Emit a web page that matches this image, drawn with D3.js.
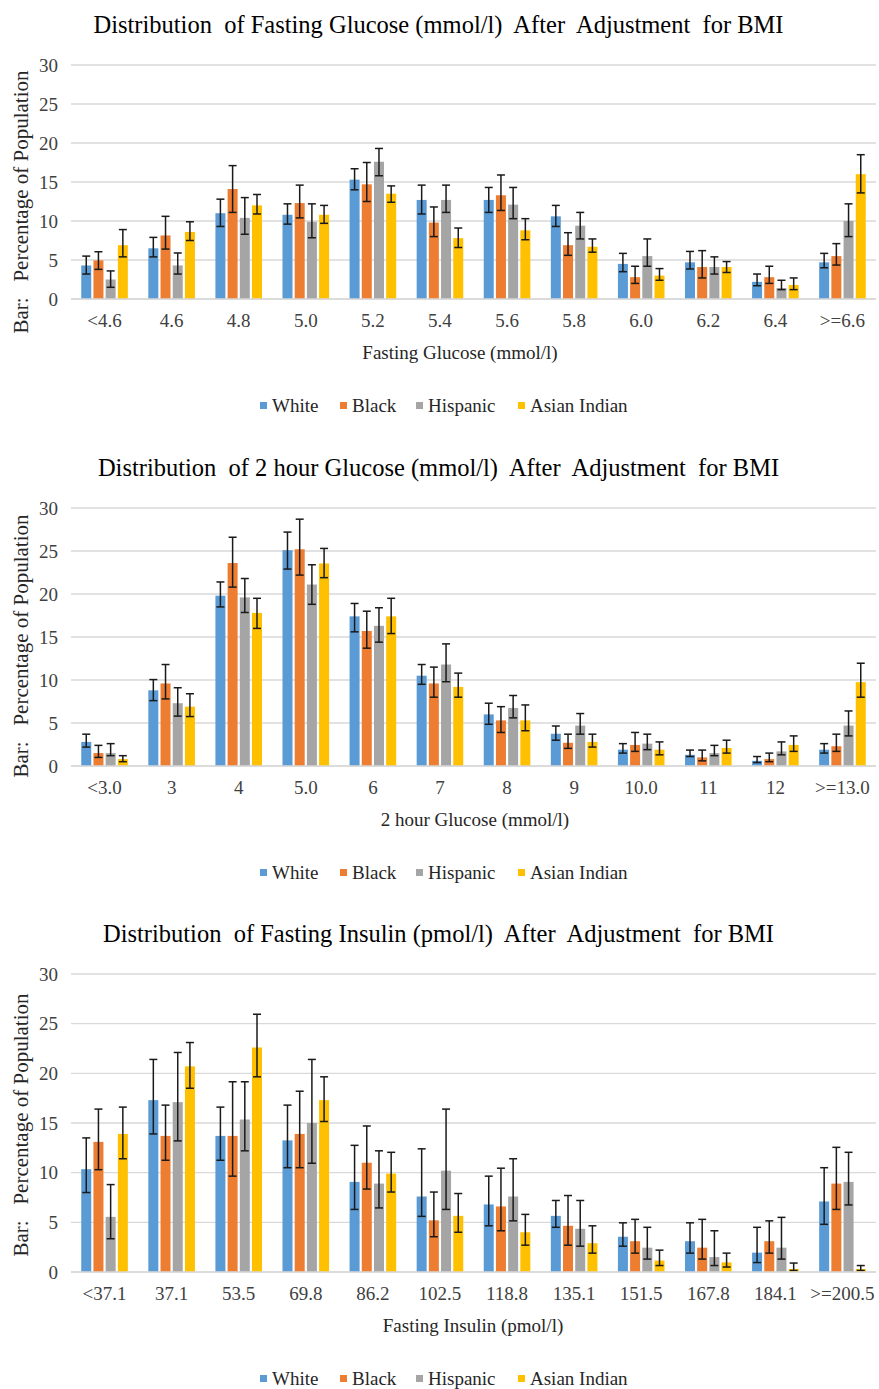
<!DOCTYPE html>
<html>
<head>
<meta charset="utf-8">
<script src="https://cdn.jsdelivr.net/npm/d3@7"></script>
<style>
  body { margin: 0; background: #fff; }
  text { font-family: "Liberation Serif", "Times New Roman", serif; white-space: pre; }
</style>
</head>
<body>
<div id="chart"></div>
<script>
// values are [bar, lower CI, upper CI]
const seriesNames = ["White", "Black", "Hispanic", "Asian Indian"];
const seriesColors = ["#5B9BD5", "#ED7D31", "#A5A5A5", "#FFC000"];
const yTicks = [0, 5, 10, 15, 20, 25, 30];

// Panel 1: fasting glucose
const fgCategories = ["<4.6", "4.6", "4.8", "5.0", "5.2", "5.4", "5.6", "5.8", "6.0", "6.2", "6.4", ">=6.6"];
const fgWhite = [[4.3,3.2,5.5],[6.5,5.4,7.9],[11.0,9.3,12.8],[10.8,9.6,12.2],[15.3,14.0,16.7],[12.7,10.9,14.6],[12.7,11.1,14.3],[10.6,9.3,12.0],[4.5,3.5,5.85],[4.7,3.85,6.1],[2.2,1.7,3.2],[4.7,4.0,5.85]];
const fgBlack = [[4.95,3.8,6.06],[8.15,6.4,10.6],[14.1,11.1,17.1],[12.3,10.4,14.6],[14.7,12.5,17.5],[9.8,8.0,11.8],[13.3,11.35,15.9],[6.9,5.6,8.5],[2.8,2.0,4.2],[4.1,2.7,6.2],[2.8,2.0,4.2],[5.5,4.35,7.1]];
const fgHispanic = [[2.5,1.5,3.6],[4.3,3.2,5.9],[10.4,8.3,13.0],[9.9,7.85,12.2],[17.6,15.8,19.3],[12.7,11.1,14.6],[12.1,10.3,14.3],[9.4,7.7,11.1],[5.5,4.2,7.7],[4.1,3.2,5.4],[1.4,1.2,2.4],[10.0,8.0,12.2]];
const fgAsianIndian = [[6.9,5.4,8.9],[8.6,7.5,9.9],[12.0,10.9,13.4],[10.8,9.7,12.0],[13.5,12.4,14.5],[7.8,6.6,9.1],[8.8,7.6,10.3],[6.7,6.0,7.7],[3.0,2.4,3.9],[4.1,3.4,4.8],[1.8,1.2,2.7],[16.0,13.6,18.5]];

// Panel 2: 2 hour glucose
const tgCategories = ["<3.0", "3", "4", "5.0", "6", "7", "8", "9", "10.0", "11", "12", ">=13.0"];
const tgWhite = [[2.8,2.2,3.7],[8.8,7.6,10.05],[19.8,18.5,21.4],[25.1,22.9,27.2],[17.4,15.6,18.9],[10.5,9.5,11.8],[6.0,4.85,7.3],[3.75,3.0,4.65],[1.9,1.5,2.6],[1.3,1.1,1.85],[0.6,0.4,1.1],[1.9,1.5,2.6]];
const tgBlack = [[1.5,1.0,2.4],[9.6,7.8,11.8],[23.6,20.8,26.6],[25.2,22.2,28.7],[15.7,13.7,18.0],[9.6,8.0,11.5],[5.3,3.9,6.9],[2.7,2.05,3.7],[2.45,1.7,3.9],[1.0,0.6,1.85],[0.8,0.5,1.5],[2.3,1.7,3.7]];
const tgHispanic = [[1.5,1.2,2.6],[7.3,5.8,9.1],[19.6,17.85,21.8],[21.1,18.8,23.4],[16.3,14.4,18.4],[11.8,9.8,14.2],[6.75,5.6,8.2],[4.7,3.7,6.1],[2.6,1.9,3.7],[1.5,1.2,2.4],[1.7,1.3,2.8],[4.7,3.5,6.4]];
const tgAsianIndian = [[0.8,0.5,1.2],[6.9,5.75,8.4],[17.8,16.0,19.5],[23.55,21.9,25.3],[17.4,15.4,19.5],[9.2,8.0,10.8],[5.3,4.1,7.1],[2.8,2.2,3.7],[1.9,1.3,2.8],[2.1,1.5,3.0],[2.45,1.7,3.5],[9.75,8.0,11.95]];

// Panel 3: fasting insulin
const fiCategories = ["<37.1", "37.1", "53.5", "69.8", "86.2", "102.5", "118.8", "135.1", "151.5", "167.8", "184.1", ">=200.5"];
const fiWhite = [[10.35,8.0,13.5],[17.3,13.9,21.4],[13.7,11.25,16.6],[13.25,10.5,16.8],[9.07,6.3,12.75],[7.6,5.6,12.4],[6.8,4.65,9.65],[5.65,4.5,7.2],[3.55,2.6,4.95],[3.1,1.9,4.95],[1.95,0.95,4.5],[7.1,4.8,10.5]];
const fiBlack = [[13.1,10.3,16.4],[13.7,11.25,16.8],[13.7,9.65,19.15],[13.9,10.5,18.2],[11.0,8.35,14.7],[5.2,3.55,8.05],[6.6,4.15,10.45],[4.65,2.7,7.7],[3.1,1.9,5.3],[2.45,1.3,5.3],[3.1,1.9,5.15],[8.9,6.3,12.55]];
const fiHispanic = [[5.55,3.35,8.8],[17.1,13.2,22.1],[15.35,12.2,19.15],[15.0,10.95,21.4],[8.9,6.45,12.2],[10.2,6.3,16.4],[7.6,5.15,11.4],[4.35,2.6,7.2],[2.45,1.3,4.5],[1.5,0.65,4.15],[2.45,1.3,5.5],[9.07,6.75,12.05]];
const fiAsianIndian = [[13.9,11.4,16.6],[20.7,18.5,23.1],[22.6,19.65,25.95],[17.3,15.15,19.65],[9.9,8.05,12.05],[5.65,4.0,7.9],[4.0,2.7,5.8],[2.9,1.9,4.65],[1.15,0.65,2.2],[0.97,0.5,1.9],[0.3,0.15,0.9],[0.3,0.15,0.65]];

const width = 879, height = 1389;
const plotLeft = 71, plotRight = 876;

const panels = [
  { title: "Distribution  of Fasting Glucose (mmol/l)  After  Adjustment  for BMI",
    xTitle: "Fasting Glucose (mmol/l)", cats: fgCategories, xTitleX: 460, yLabelY: 202,
    series: [fgWhite, fgBlack, fgHispanic, fgAsianIndian], top: 65, bottom: 299 },
  { title: "Distribution  of 2 hour Glucose (mmol/l)  After  Adjustment  for BMI",
    xTitle: "2 hour Glucose (mmol/l)", cats: tgCategories, xTitleX: 475, yLabelY: 646,
    series: [tgWhite, tgBlack, tgHispanic, tgAsianIndian], top: 508, bottom: 766 },
  { title: "Distribution  of Fasting Insulin (pmol/l)  After  Adjustment  for BMI",
    xTitle: "Fasting Insulin (pmol/l)", cats: fiCategories, xTitleX: 473, yLabelY: 1125,
    series: [fiWhite, fiBlack, fiHispanic, fiAsianIndian], top: 974, bottom: 1272 }
];

const svg = d3.select("#chart").append("svg")
  .attr("width", width)
  .attr("height", height);

panels.forEach(p => drawPanel(p));

function drawPanel(p) {
  const g = svg.append("g");

  const x0 = d3.scaleBand().domain(p.cats).range([plotLeft, plotRight]).paddingInner(0).paddingOuter(0);
  const groupW = 46.6;
  const x1 = d3.scaleBand().domain(seriesNames)
    .range([(x0.bandwidth() - groupW) / 2, (x0.bandwidth() + groupW) / 2])
    .paddingInner(0.18).paddingOuter(0);
  const y = d3.scaleLinear().domain([0, 30]).range([p.bottom, p.top]);

  // title
  g.append("text")
    .attr("x", width / 2 - 1)
    .attr("y", p.top - 32)
    .attr("text-anchor", "middle")
    .attr("fill", "#000")
    .style("font-size", "24.5px")
    .text(p.title);

  // gridlines
  g.append("g")
    .selectAll("line")
    .data(yTicks)
    .join("line")
    .attr("x1", plotLeft).attr("x2", plotRight)
    .attr("y1", d => y(d)).attr("y2", d => y(d))
    .attr("stroke", "#d9d9d9")
    .attr("stroke-width", 1.3);

  // y axis labels
  const yAxis = g.append("g")
    .attr("transform", `translate(${plotLeft},0)`)
    .call(d3.axisLeft(y).tickValues(yTicks).tickSize(0).tickPadding(13));
  yAxis.select(".domain").remove();
  yAxis.selectAll("text")
    .attr("fill", "#404040")
    .style("font-family", "Liberation Serif, serif")
    .style("font-size", "19px");

  // y axis title
  g.append("text")
    .attr("transform", `translate(28,${p.yLabelY}) rotate(-90)`)
    .attr("text-anchor", "middle")
    .attr("fill", "#262626")
    .style("font-size", "21px")
    .text("Bar:   Percentage of Population");

  // bars
  p.series.forEach((vals, si) => {
    const sg = g.append("g");
    sg.selectAll("rect")
      .data(vals)
      .join("rect")
      .attr("x", (d, i) => x0(p.cats[i]) + x1(seriesNames[si]))
      .attr("y", d => y(d[0]))
      .attr("width", x1.bandwidth())
      .attr("height", d => y(0) - y(d[0]))
      .attr("fill", seriesColors[si]);
  });

  // error bars
  p.series.forEach((vals, si) => {
    const eg = g.append("g").attr("stroke", "#1a1a1a").attr("stroke-width", 1.5);
    vals.forEach((d, i) => {
      const cx = x0(p.cats[i]) + x1(seriesNames[si]) + x1.bandwidth() / 2;
      eg.append("line").attr("x1", cx).attr("x2", cx).attr("y1", y(d[1])).attr("y2", y(d[2]));
      eg.append("line").attr("x1", cx - 4).attr("x2", cx + 4).attr("y1", y(d[1])).attr("y2", y(d[1]));
      eg.append("line").attr("x1", cx - 4).attr("x2", cx + 4).attr("y1", y(d[2])).attr("y2", y(d[2]));
    });
  });

  // baseline
  g.append("line")
    .attr("x1", plotLeft).attr("x2", plotRight)
    .attr("y1", y(0)).attr("y2", y(0))
    .attr("stroke", "#d9d9d9")
    .attr("stroke-width", 1.3);

  // x axis labels
  const xAxis = g.append("g")
    .attr("transform", `translate(0,${p.bottom})`)
    .call(d3.axisBottom(x0).tickSize(0).tickPadding(15));
  xAxis.select(".domain").remove();
  xAxis.selectAll("text")
    .attr("fill", "#404040")
    .style("font-family", "Liberation Serif, serif")
    .style("font-size", "19px");

  // x axis title
  g.append("text")
    .attr("x", p.xTitleX)
    .attr("y", p.bottom + 60)
    .attr("text-anchor", "middle")
    .attr("fill", "#262626")
    .style("font-size", "19px")
    .text(p.xTitle);

  // legend
  const legendX = [260, 340, 416, 518];
  const lg = g.append("g").attr("transform", `translate(0,${p.bottom + 107})`);
  seriesNames.forEach((name, i) => {
    lg.append("rect")
      .attr("x", legendX[i]).attr("y", -4)
      .attr("width", 7).attr("height", 7)
      .attr("fill", seriesColors[i]);
    lg.append("text")
      .attr("x", legendX[i] + 12).attr("y", 6)
      .attr("fill", "#262626")
      .style("font-size", "19px")
      .text(name);
  });
}
</script>
</body>
</html>
